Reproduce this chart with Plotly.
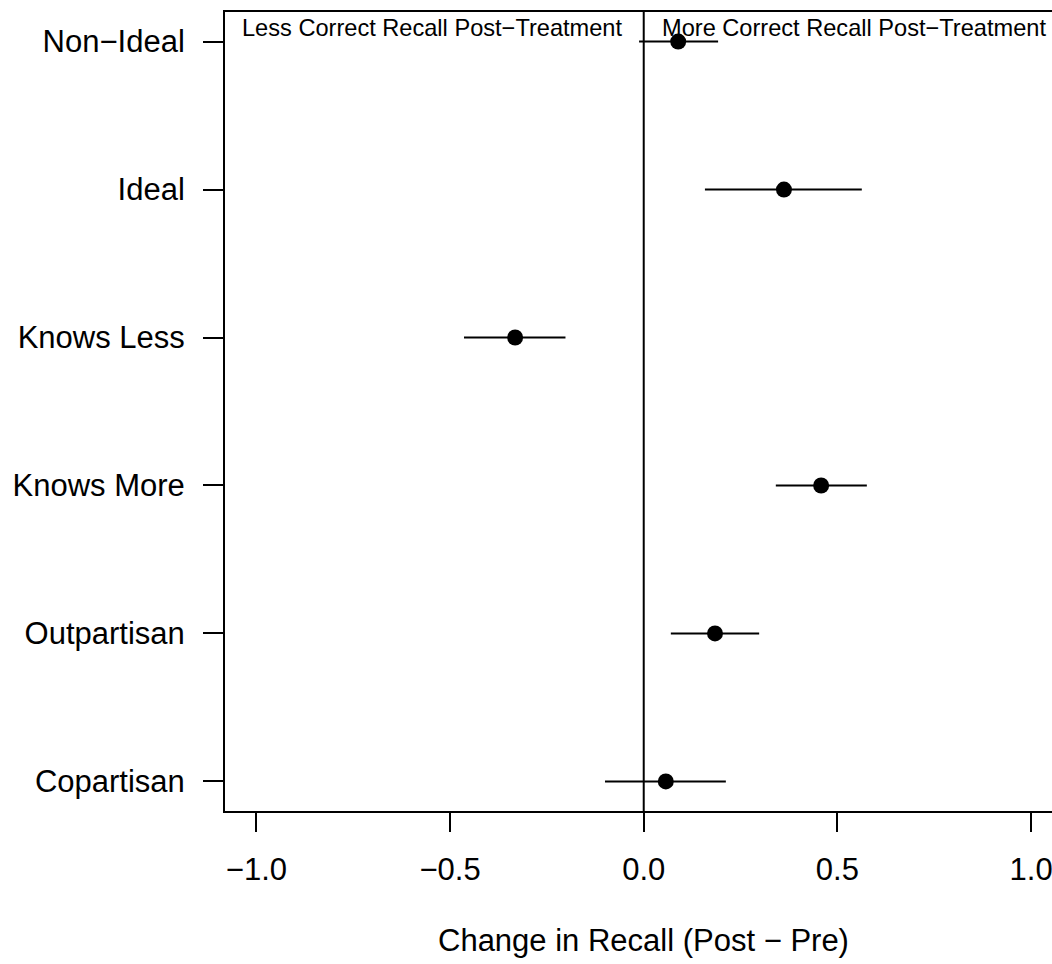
import plotly.graph_objects as go

labels = ["Copartisan", "Outpartisan", "Knows More", "Knows Less", "Ideal", "Non\u2212Ideal"]
estimates = [0.057, 0.184, 0.458, -0.332, 0.362, 0.089]
lower = [-0.100, 0.070, 0.341, -0.464, 0.158, -0.012]
upper = [0.212, 0.298, 0.576, -0.202, 0.563, 0.192]
x_ticks = [-1.0, -0.5, 0.0, 0.5, 1.0]
left_note = "Less Correct Recall Post\u2212Treatment"
right_note = "More Correct Recall Post\u2212Treatment"
x_title = "Change in Recall (Post \u2212 Pre)"

ypos = list(range(1, len(labels) + 1))
err_plus = [u - e for u, e in zip(upper, estimates)]
err_minus = [e - l for e, l in zip(estimates, lower)]

FONT = "Liberation Sans, Arial, Helvetica, sans-serif"

fig = go.Figure()
fig.add_trace(go.Scatter(
    x=estimates, y=ypos, mode="markers",
    marker=dict(size=16, color="black", symbol="circle"),
    error_x=dict(type="data", symmetric=False, array=err_plus, arrayminus=err_minus,
                 color="black", thickness=2, width=0),
    showlegend=False, hoverinfo="skip",
))

fig.add_shape(type="line", xref="x", yref="paper", x0=0, x1=0, y0=0, y1=1,
              line=dict(color="black", width=2))

fig.add_annotation(x=0, y=6.095, xref="x", yref="y", text=left_note, showarrow=False,
                   xanchor="right", yanchor="middle", xshift=-20,
                   font=dict(family=FONT, size=23.6, color="black"))
fig.add_annotation(x=0, y=6.095, xref="x", yref="y", text=right_note, showarrow=False,
                   xanchor="left", yanchor="middle", xshift=16,
                   font=dict(family=FONT, size=23.6, color="black"))
fig.add_annotation(x=0, y=0, xref="x", yref="paper", text=x_title, showarrow=False,
                   xanchor="center", yanchor="middle", yshift=-129,
                   font=dict(family=FONT, size=31, color="black"))

fig.update_layout(
    width=1052, height=964,
    margin=dict(l=225, r=0, t=12, b=153, pad=0),
    plot_bgcolor="white", paper_bgcolor="white",
    font=dict(family=FONT, size=31, color="black"),
    xaxis=dict(range=[-1.081, 1.054], tickvals=x_ticks, tickformat=".1f",
               showgrid=False, zeroline=False, showline=True, linecolor="black",
               linewidth=2, mirror=True, ticks="outside", ticklen=19, tickwidth=2,
               tickcolor="black", tickfont=dict(family=FONT, size=31),
               ticklabelstandoff=11, ticklabeloverflow="allow"),
    yaxis=dict(range=[0.8, 6.2], tickvals=ypos, ticktext=labels,
               showgrid=False, zeroline=False, showline=True, linecolor="black",
               linewidth=2, ticks="outside", ticklen=20, tickwidth=2,
               tickcolor="black", tickfont=dict(family=FONT, size=31),
               ticklabelstandoff=12),
)

fig.write_html("out.html")
